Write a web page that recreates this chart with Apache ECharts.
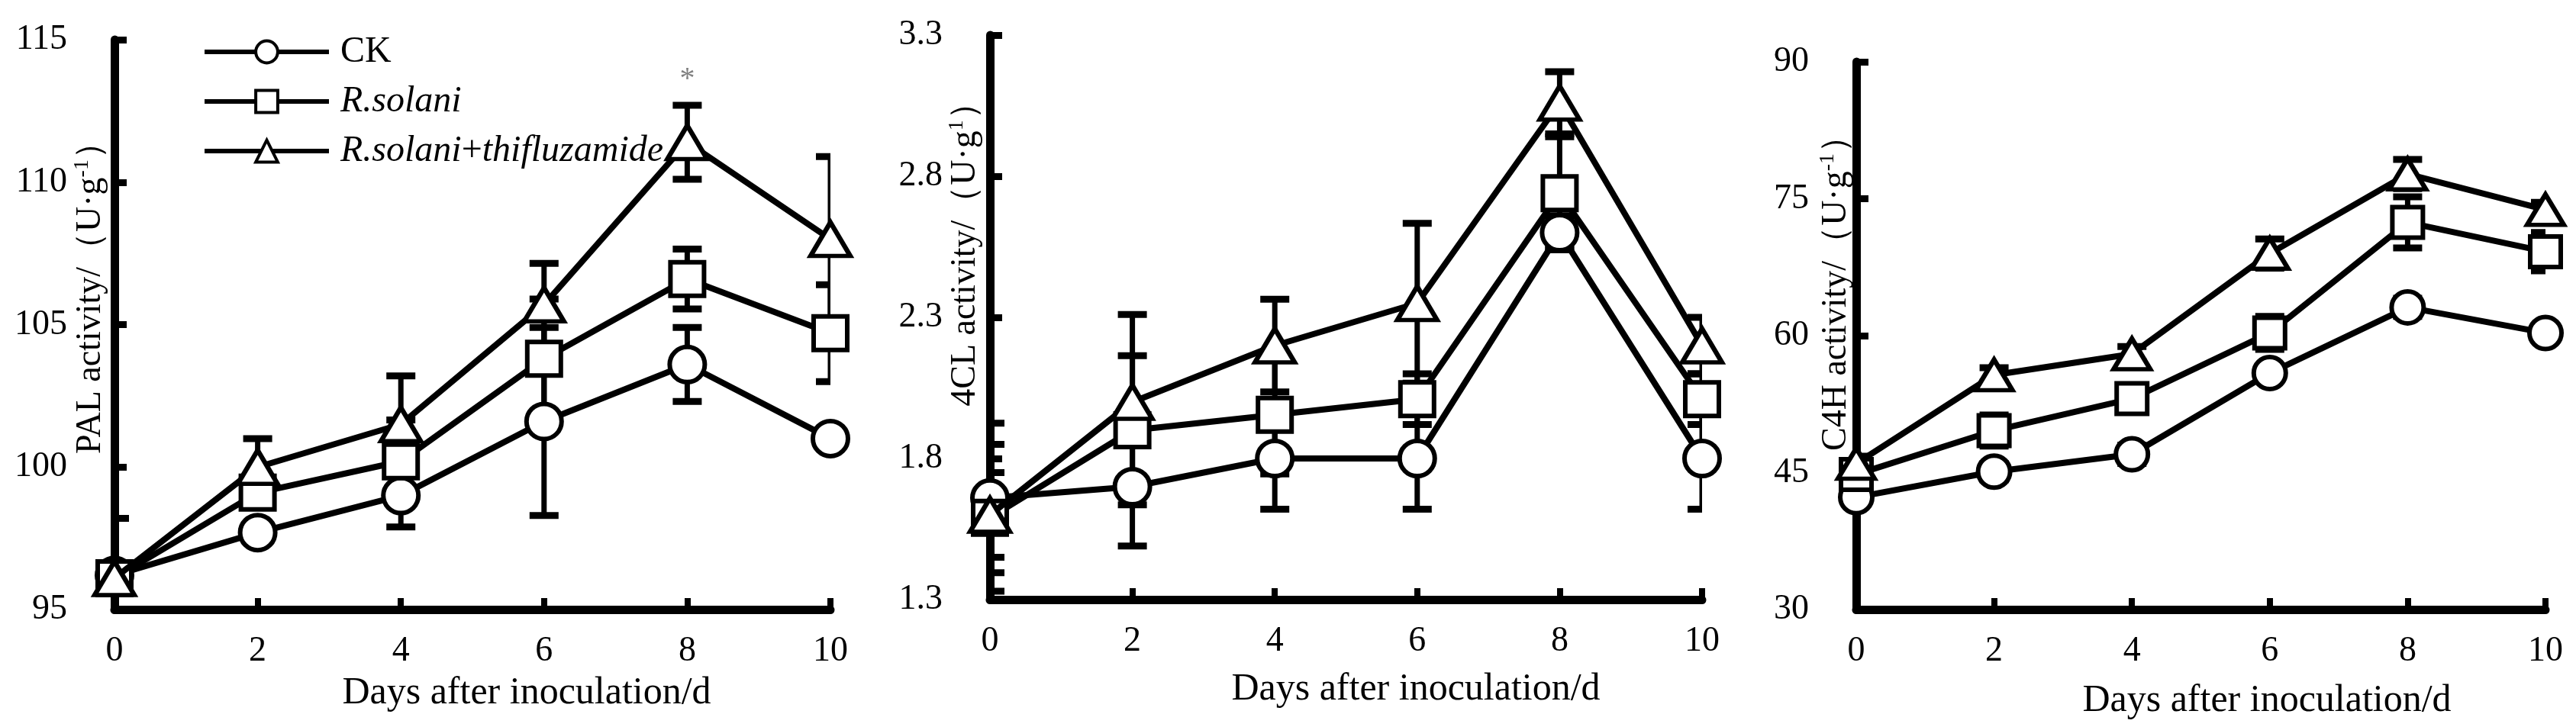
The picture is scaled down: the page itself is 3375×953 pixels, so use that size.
<!DOCTYPE html>
<html>
<head>
<meta charset="utf-8">
<script src="https://cdn.jsdelivr.net/npm/echarts@6/dist/echarts.min.js"></script>
<style>
html,body{margin:0;padding:0;background:#fff;}
#chart{width:3375px;height:953px;}
</style>
</head>
<body>
<div id="chart"></div>
<script>
// ---------- data ----------
const days = [0, 2, 4, 6, 8, 10];
const seriesNames = ['CK', 'R.solani', 'R.solani+thifluzamide'];

const palTicks = [95, 100, 105, 110, 115];
const palCK = [96.2, 97.7, 99.0, 101.6, 103.6, 101.0];
const palRS = [96.1, 99.1, 100.2, 103.8, 106.6, 104.7];
const palRT = [96.1, 100.0, 101.5, 105.7, 111.4, 108.0];
const palCKErr = [2.0, 0.3, 1.1, 3.3, 1.3, 0.3];
const palRSErr = [0.3, 0.3, 1.45, 2.1, 1.05, 1.7];
const palRTErr = [0.3, 1.0, 1.7, 1.45, 1.3, 2.9];
const palStar = [8, 113.6];

const clTicks = [1.3, 1.8, 2.3, 2.8, 3.3];
const clCK = [1.66, 1.70, 1.80, 1.80, 2.60, 1.80];
const clRS = [1.59, 1.90, 1.955, 2.01, 2.74, 2.01];
const clRT = [1.60, 2.00, 2.20, 2.35, 3.06, 2.20];
const clCKErr = [0.265, 0.21, 0.18, 0.18, 0.06, 0.18];
const clRSErr = [0.26, 0.264, 0.21, 0.09, 0.20, 0.09];
const clRTErr = [0.15, 0.31, 0.164, 0.283, 0.11, 0.10];

const c4Ticks = [30, 45, 60, 75, 90];
const c4CK = [42.3, 45.1, 47.0, 55.9, 63.1, 60.3];
const c4RS = [44.8, 49.6, 53.1, 60.3, 72.4, 69.2];
const c4RT = [46.0, 55.7, 58.0, 69.0, 77.7, 73.8];
const c4CKErr = [0.8, 0.9, 1.0, 0.8, 1.0, 0.6];
const c4RSErr = [0.8, 1.7, 0.8, 1.8, 2.8, 2.1];
const c4RTErr = [0.8, 0.8, 0.8, 1.6, 1.6, 0.8];

const yTitles = ['PAL activity/（U·g', '4CL activity/（U·g', 'C4H activity/（U·g'];
const ySups = ['-1', '1', '-1'];
const xTitle = 'Days after inoculation/d';

// ---------- style ----------
const FONT = "'Liberation Serif','Times New Roman',serif";
const grids = [
  {left: 150, top: 52, width: 938, height: 747},
  {left: 1297, top: 46, width: 933, height: 740},
  {left: 2432, top: 81, width: 903, height: 718}
];
const symSizes = [46, 46, 42];

function pair(vals) { return days.map((d, i) => [d, vals[i]]); }
function triple(vals, errs) { return days.map((d, i) => [d, vals[i], errs[i]]); }

function xAxisCfg(gi) {
  return {
    type: 'value', gridIndex: gi, min: days[0], max: days[days.length - 1], interval: days[1] - days[0],
    axisLine: {show: true, lineStyle: {color: '#000', width: 11}},
    axisTick: {show: true, inside: true, length: 15, lineStyle: {color: '#000', width: 8}},
    axisLabel: {show: true, margin: 32, color: '#000', fontSize: 46, fontFamily: FONT},
    splitLine: {show: false}
  };
}
function yAxisCfg(gi, ticks, digits) {
  const step = Math.round((ticks[1] - ticks[0]) * 1000) / 1000;
  return {
    type: 'value', gridIndex: gi, min: ticks[0], max: ticks[ticks.length - 1], interval: step,
    axisLine: {show: true, lineStyle: {color: '#000', width: 11}},
    axisTick: {show: true, inside: true, length: 16, lineStyle: {color: '#000', width: 9}},
    axisLabel: {show: true, margin: 62, color: '#000', fontSize: 46, fontFamily: FONT,
      formatter: v => Number(v).toFixed(digits)},
    splitLine: {show: false}
  };
}

const symbols = ['circle', 'rect', 'triangle'];
function lineSeries(gi, idx, vals) {
  const s = symSizes[gi];
  let size = s;
  if (symbols[idx] === 'rect') size = s - 2;
  if (symbols[idx] === 'triangle') size = [s + 6, s - 2];
  return {
    type: 'line', name: seriesNames[idx], xAxisIndex: gi, yAxisIndex: gi,
    data: pair(vals), symbol: symbols[idx], symbolSize: size, showAllSymbol: true,
    lineStyle: {color: '#000', width: 8},
    itemStyle: {color: '#fff', borderColor: '#000', borderWidth: 6},
    z: 3 + idx, animation: false, emphasis: {disabled: true}
  };
}

function errRender(params, api) {
  const x = api.value(0), y = api.value(1), e = api.value(2);
  const hi = api.coord([x, y + e]);
  const lo = api.coord([x, y - e]);
  const w = 19;
  const st = {stroke: '#000', lineWidth: 7};
  const cs = {stroke: '#000', lineWidth: 9};
  return {
    type: 'group',
    children: [
      {type: 'line', shape: {x1: hi[0], y1: hi[1], x2: lo[0], y2: lo[1]}, style: st},
      {type: 'line', shape: {x1: hi[0] - w, y1: hi[1], x2: hi[0] + w, y2: hi[1]}, style: cs},
      {type: 'line', shape: {x1: lo[0] - w, y1: lo[1], x2: lo[0] + w, y2: lo[1]}, style: cs}
    ]
  };
}
function errSeries(gi, sets) {
  let data = [];
  sets.forEach(([v, e]) => { data = data.concat(triple(v, e)); });
  return {
    type: 'custom', name: 'err' + gi, xAxisIndex: gi, yAxisIndex: gi,
    data: data, renderItem: errRender, clip: true, z: 1, animation: false,
    encode: {x: 0, y: 1}, silent: true
  };
}

const series = [
  errSeries(0, [[palCK, palCKErr], [palRS, palRSErr], [palRT, palRTErr]]),
  lineSeries(0, 0, palCK), lineSeries(0, 1, palRS), lineSeries(0, 2, palRT),
  errSeries(1, [[clCK, clCKErr], [clRS, clRSErr], [clRT, clRTErr]]),
  lineSeries(1, 0, clCK), lineSeries(1, 1, clRS), lineSeries(1, 2, clRT),
  errSeries(2, [[c4CK, c4CKErr], [c4RS, c4RSErr], [c4RT, c4RTErr]]),
  lineSeries(2, 0, c4CK), lineSeries(2, 1, c4RS), lineSeries(2, 2, c4RT),
  {
    type: 'custom', name: 'star', xAxisIndex: 0, yAxisIndex: 0, data: [palStar], z: 10,
    animation: false, silent: true, encode: {x: 0, y: 1},
    renderItem: function (params, api) {
      const p = api.coord([api.value(0), api.value(1)]);
      return {type: 'text', x: p[0], y: p[1],
        style: {text: '*', fill: '#808080', font: '40px ' + FONT, textAlign: 'center', textVerticalAlign: 'middle'}};
    }
  }
];

const yTitlePos = [[119, 379], [1265, 322], [2406, 373]];
const xTitlePos = [[690, 909], [1855, 904], [2970, 919]];
const graphics = [];
yTitles.forEach((t, i) => {
  graphics.push({
    type: 'text', x: yTitlePos[i][0], y: yTitlePos[i][1], rotation: Math.PI / 2, silent: true,
    style: {
      text: '{n|' + t + '}{s|' + ySups[i] + '}{n|）}',
      textAlign: 'center', textVerticalAlign: 'middle',
      rich: {
        n: {fontSize: 46, fontFamily: FONT, fill: '#000', lineHeight: 50},
        s: {fontSize: 28, fontFamily: FONT, fill: '#000', verticalAlign: 'top', lineHeight: 50, padding: [0, 0, 16, 0]}
      }
    }
  });
});
xTitlePos.forEach(p => {
  graphics.push({
    type: 'text', x: p[0], y: p[1], silent: true,
    style: {text: xTitle, font: '50px ' + FONT, fill: '#000', textAlign: 'center', textVerticalAlign: 'middle'}
  });
});

const option = {
  backgroundColor: '#fff',
  animation: false,
  grid: grids.map(g => Object.assign({containLabel: false}, g)),
  xAxis: [xAxisCfg(0), xAxisCfg(1), xAxisCfg(2)],
  yAxis: [yAxisCfg(0, palTicks, 0), yAxisCfg(1, clTicks, 1), yAxisCfg(2, c4Ticks, 0)],
  legend: {
    data: seriesNames, orient: 'vertical', left: 260, top: 39,
    itemWidth: 163, itemHeight: 36, itemGap: 17, selectedMode: false,
    lineStyle: {color: '#000', width: 6},
    itemStyle: {color: '#fff', borderColor: '#000', borderWidth: 4},
    textStyle: {fontSize: 48, fontFamily: FONT, color: '#000', padding: [0, 0, 0, 10],
      rich: {
        n: {fontSize: 48, fontFamily: FONT, color: '#000', lineHeight: 48},
        i: {fontSize: 48, fontFamily: FONT, color: '#000', fontStyle: 'italic', lineHeight: 48}
      }
    },
    formatter: function (name) {
      if (name === 'CK') return '{n|CK}';
      const parts = name.split('+');
      return parts.map(p => '{i|' + p + '}').join('{n|+}');
    }
  },
  graphic: graphics,
  series: series
};

const chart = echarts.init(document.getElementById('chart'), null, {renderer: 'canvas'});
chart.setOption(option);
</script>
</body>
</html>
